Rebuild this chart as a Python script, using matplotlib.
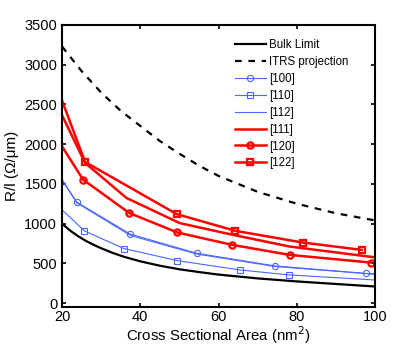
import matplotlib
matplotlib.use("Agg")
import matplotlib.pyplot as plt

plt.rcParams['font.family'] = ['Liberation Sans', 'DejaVu Sans']

# Data
bulk_x = [20, 22, 24, 26, 28, 30, 33, 36, 40, 45, 50, 55, 60, 70, 80, 90, 100]
bulk_y = [1000, 915, 845, 785, 735, 690, 630, 580, 525, 470, 425, 390, 358, 310, 272, 240, 208]

itrs_x = [20, 25, 30, 35, 40, 45, 50, 55, 60, 70, 80, 90, 100]
itrs_y = [3230, 2920, 2650, 2420, 2230, 2040, 1880, 1730, 1600, 1400, 1250, 1130, 1040]

x100 = [20, 23.75, 37.5, 54.4, 74.4, 97.7, 100]
y100 = [1555, 1271, 867, 627, 467, 372, 366]

x110 = [20, 25.7, 35.8, 49.5, 65.4, 78.0, 100]
y110 = [1174, 909, 686, 534, 417, 354, 290]

x112 = [20, 23.75, 37.5, 54.4, 74.4, 100]
y112 = [1555, 1262, 850, 617, 460, 362]

x111 = [20, 25.9, 36.5, 50.1, 64.0, 78.2, 100]
y111 = [2365, 1764, 1322, 1006, 855, 711, 575]

x120 = [20, 25.4, 37.2, 49.5, 63.5, 78.2, 99.0]
y120 = [1973, 1553, 1133, 888, 732, 606, 509]

x122 = [20, 25.9, 49.3, 64.3, 81.6, 96.6]
y122 = [2550, 1776, 1120, 909, 761, 669]

xticks = [20, 40, 60, 80, 100]
yticks = [0, 500, 1000, 1500, 2000, 2500, 3000, 3500]

blue = '#4a66ff'
red = '#ff0000'

fig = plt.figure(figsize=(4.15, 3.46), dpi=100)
ax = fig.add_axes([62/415, 1-307/346, (375-62)/415, (307-25)/346])

ax.plot(bulk_x, bulk_y, color='black', lw=1.6, label='Bulk Limit')
ax.plot(itrs_x, itrs_y, color='black', lw=1.6, ls=(0, (3, 3)), label='ITRS projection')
ax.plot(x100, y100, color=blue, lw=0.8, marker='o', ms=4.5, mfc='none', mew=0.8,
        markevery=slice(1, -1), label='[100]')
ax.plot(x110, y110, color=blue, lw=0.8, marker='s', ms=4, mfc='none', mew=0.8,
        markevery=slice(1, -1), label='[110]')
ax.plot(x112, y112, color=blue, lw=0.8, label='[112]')
ax.plot(x111, y111, color=red, lw=1.8, label='[111]')
ax.plot(x120, y120, color=red, lw=1.8, marker='o', ms=4.5, mfc='none', mew=1.6,
        markevery=slice(1, None), label='[120]')
ax.plot(x122, y122, color=red, lw=1.8, marker='s', ms=4.2, mfc='none', mew=1.6,
        markevery=slice(1, None), label='[122]')

ax.set_xlim(20, 100)
ax.set_ylim(-50, 3500)
ax.set_xticks(xticks)
ax.set_yticks(yticks)
ax.tick_params(direction='in', top=True, right=True, length=3, width=1.2, labelsize=10.5)
ax.tick_params(axis='x', pad=2.5)
for s in ax.spines.values():
    s.set_linewidth(1.5)

ax.set_xlabel('Cross Sectional Area (nm$^2$)', fontsize=10.8, labelpad=0)
ax.set_ylabel('R/l (Ω/μm)', fontsize=11, labelpad=4)

leg = ax.legend(loc='upper left', bbox_to_anchor=(0.538, 0.965), frameon=False,
                fontsize=8.3, handlelength=2.65, handletextpad=0.3,
                labelspacing=0.42, borderaxespad=0)

fig.savefig('out.png', dpi=100)
